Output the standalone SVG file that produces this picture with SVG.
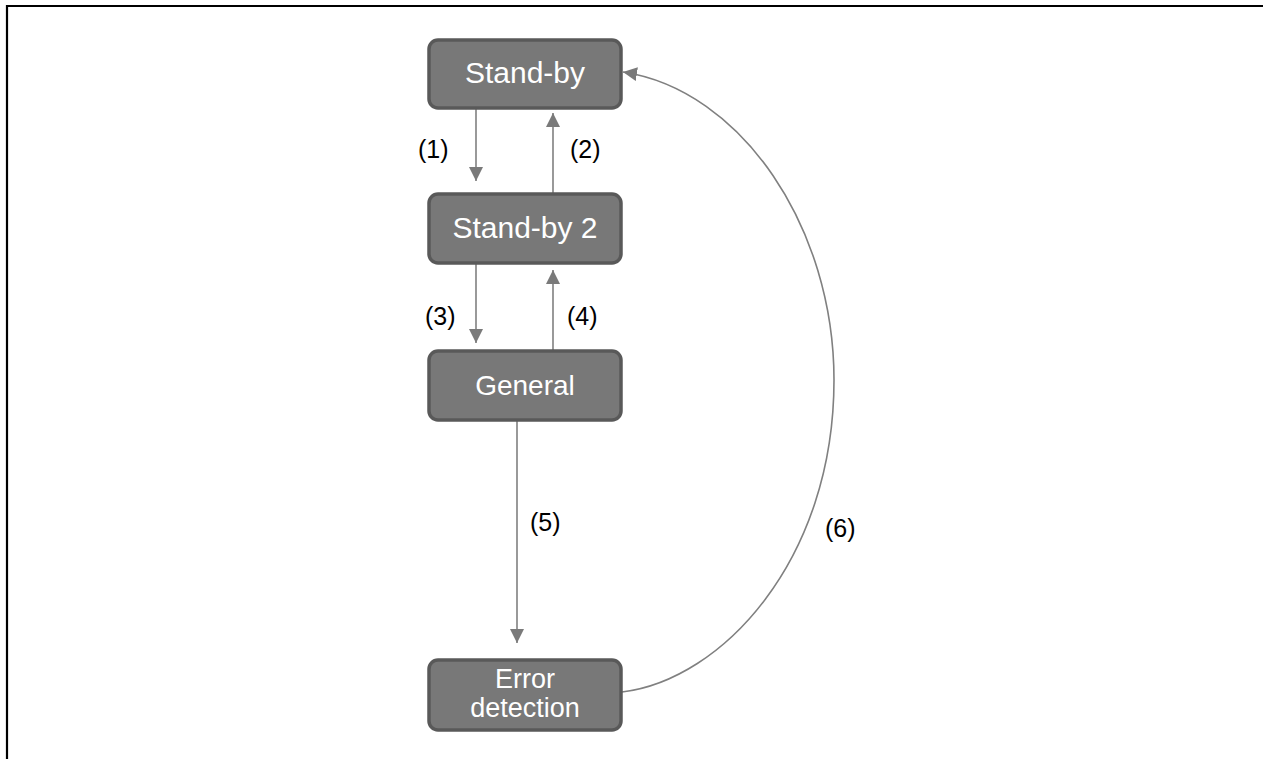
<svg xmlns="http://www.w3.org/2000/svg" width="1263" height="759" viewBox="0 0 1263 759">
<defs>
<style>
.node rect{fill:#787878;stroke:#595959;stroke-width:3.5}
.node text{fill:#ffffff;font-family:"Liberation Sans",Arial,sans-serif;text-anchor:middle}
.conn{stroke:#808080;stroke-width:1.6;fill:none}
.lbl{fill:#000;font-family:"Liberation Sans",Arial,sans-serif;font-size:25px}
</style>
<marker id="ah" viewBox="0 0 14 14" refX="14" refY="7" markerWidth="14" markerHeight="14" markerUnits="userSpaceOnUse" orient="auto">
<path d="M0,0 L14,7 L0,14 z" fill="#7a7a7a"/>
</marker>
</defs>
<rect x="0" y="0" width="1263" height="759" fill="#ffffff"/>
<path d="M7,759 L7,6 L1263,6" fill="none" stroke="#000" stroke-width="2.2"/>
<g id="connectors">
<line class="conn" x1="476" y1="109" x2="476" y2="181" marker-end="url(#ah)"/>
<line class="conn" x1="553" y1="193" x2="553" y2="113" marker-end="url(#ah)"/>
<line class="conn" x1="476" y1="263" x2="476" y2="343" marker-end="url(#ah)"/>
<line class="conn" x1="553" y1="350" x2="553" y2="270" marker-end="url(#ah)"/>
<line class="conn" x1="517" y1="420" x2="517" y2="643" marker-end="url(#ah)"/>
<path class="conn" stroke-width="1.3" d="M622,692 C722,680 834,560 834,380 C834,228 742,90 623,72" marker-end="url(#ah)"/>
<text class="lbl" x="418" y="158">(1)</text>
<text class="lbl" x="570" y="158">(2)</text>
<text class="lbl" x="425" y="325">(3)</text>
<text class="lbl" x="567" y="325">(4)</text>
<text class="lbl" x="530" y="531">(5)</text>
<text class="lbl" x="825" y="537">(6)</text>
</g>
<g id="node-standby" class="node">
<rect x="429" y="40" width="192" height="68" rx="9"/>
<text x="525" y="83" font-size="30">Stand-by</text>
</g>
<g id="node-standby2" class="node">
<rect x="429" y="194" width="192" height="69" rx="9"/>
<text x="525" y="238" font-size="30">Stand-by 2</text>
</g>
<g id="node-general" class="node">
<rect x="429" y="351" width="192" height="69" rx="9"/>
<text x="525" y="395" font-size="28">General</text>
</g>
<g id="node-error" class="node">
<rect x="429" y="660" width="192" height="70" rx="9"/>
<text x="525" y="688" font-size="27">Error</text>
<text x="525" y="717" font-size="27">detection</text>
</g>
</svg>
